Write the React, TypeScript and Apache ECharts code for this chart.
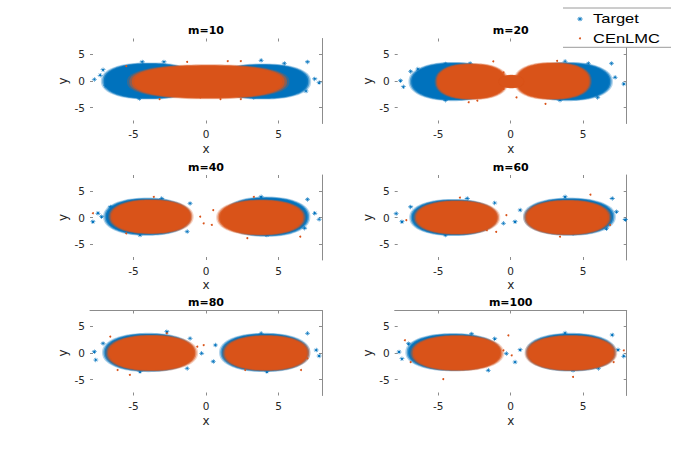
import React, { useEffect, useRef } from "react";
import * as echarts from "echarts";

// ---------- data ----------
const panelTitles = ["m=10", "m=20", "m=40", "m=60", "m=80", "m=100"];
const xTicks = [-5, 0, 5];
const yTicks = [-5, 0, 5];
const axisMin = -8;
const axisMax = 8;

// dense cloud bodies: [centre x, centre y, half-width x, half-height y, roundness]
const targetBody_m10 = [[-3.9, 0.0, 3.35, 3.5, 2.3], [3.9, -0.1, 3.35, 3.4, 2.3]];
const approxBody_m10 = [[0.15, -0.15, 5.6, 3.3, 2.4]];
const targetBody_m20 = [[-3.95, -0.1, 3.1, 3.7, 2.2], [3.95, -0.1, 3.1, 3.7, 2.2]];
const approxBody_m20 = [[-2.7, -0.1, 2.55, 3.5, 2.3], [2.9, 0.0, 2.7, 3.6, 2.3], [0.05, -0.1, 0.9, 1.3, 2.0]];
const targetBody_m40 = [[-4.05, 0.15, 3.05, 3.6, 2.2], [4.15, 0.15, 3.05, 3.8, 2.2]];
const approxBody_m40 = [[-3.8, 0.15, 2.95, 3.35, 2.2], [3.8, 0.0, 3.1, 3.45, 2.2]];
const targetBody_m60 = [[-3.95, 0.0, 3.05, 3.5, 2.2], [4.05, 0.15, 3.2, 3.6, 2.2]];
const approxBody_m60 = [[-3.72, 0.0, 3.0, 3.3, 2.2], [3.92, 0.0, 3.05, 3.4, 2.2]];
const targetBody_m80 = [[-3.97, 0.1, 3.2, 3.7, 2.2], [4.05, 0.1, 3.15, 3.7, 2.2]];
const approxBody_m80 = [[-3.75, 0.0, 3.2, 3.5, 2.2], [4.15, 0.0, 3.05, 3.45, 2.2]];
const targetBody_m100 = [[-3.97, 0.15, 3.3, 3.6, 2.2], [4.15, 0.15, 3.15, 3.65, 2.2]];
const approxBody_m100 = [[-3.7, 0.0, 3.25, 3.45, 2.2], [4.15, 0.0, 3.2, 3.45, 2.2]];

// sparse points outside the dense bodies: [x, y]
const targetPts_m10 = [[-7.7, 0.3], [-7.3, 1.1], [-7.1, 2.1], [-4.4, 3.6], [-2.9, 3.6], [3.8, 3.9], [5.4, 3.3], [7.0, 3.6], [7.5, 0.4], [7.8, -0.3], [6.9, -1.9], [-4.6, -3.3], [3.3, -3.1], [5.2, -2.5], [-6.9, -0.9]];
const approxPts_m10 = [[-1.3, 3.6], [1.5, 3.75], [2.4, 3.75], [1.0, -3.4], [2.4, -3.4], [-3.2, -3.4], [-0.4, -3.1], [-5.5, 2.8]];
const targetPts_m20 = [[-7.6, 0.06], [-7.4, -1.1], [-6.9, 1.8], [-6.4, 2.25], [-4.5, 3.2], [-2.8, 3.3], [-4.5, -3.6], [3.75, 3.7], [5.35, 3.3], [6.95, 3.3], [7.2, 0.7], [7.8, -0.56], [6.0, -3.1], [3.4, -3.6]];
const approxPts_m20 = [[-1.2, 3.7], [-0.5, 1.6], [-0.5, -1.5], [0.4, -3.1], [2.4, -4.3], [-2.3, -3.7], [3.2, 3.8], [-2.9, -4.0]];
const targetPts_m40 = [[-7.8, -0.8], [-7.45, 0.8], [-7.2, 0.15], [-6.6, 2.0], [-3.05, 3.6], [-4.55, -3.3], [-1.3, -2.65], [-1.1, 2.65], [3.8, 3.9], [7.0, 3.4], [7.5, 0.8], [7.8, -0.35], [6.8, -2.0], [4.2, -3.3]];
const approxPts_m40 = [[-7.8, 0.8], [-3.6, 3.9], [-0.4, 0.15], [-0.16, -1.1], [0.5, 1.4], [0.4, -1.4], [6.5, -3.6], [2.85, -3.9], [3.3, 3.9], [-5.5, -3.0]];
const targetPts_m60 = [[-7.9, 0.75], [-7.5, -0.8], [-6.9, 2.0], [-3.0, 3.6], [-4.5, -3.3], [-1.1, 2.75], [-0.5, -1.1], [0.3, -0.8], [0.65, 1.4], [3.75, 3.9], [7.0, 3.6], [7.3, 1.1], [7.9, -0.4], [6.6, -2.1], [4.3, -3.0]];
const approxPts_m60 = [[-7.2, -0.5], [-3.5, 3.75], [-1.0, -2.7], [-0.3, 0.44], [5.5, 4.3], [6.2, -0.2], [6.85, -1.4], [3.4, -3.6], [-1.65, -2.4]];
const targetPts_m80 = [[-7.7, 0.25], [-7.6, -1.3], [-7.1, 1.8], [-2.7, 4.0], [-1.1, 2.75], [-1.3, -2.9], [-4.55, -3.5], [-0.3, -0.06], [0.65, 1.5], [0.5, -1.6], [3.8, 3.7], [7.0, 3.7], [7.6, 0.56], [7.8, -0.56], [4.2, -3.5]];
const approxPts_m80 = [[-6.6, 3.1], [-6.1, -3.2], [-5.25, -4.1], [-0.6, 1.2], [-0.16, 1.5], [-2.7, 3.7], [7.0, -1.0], [6.55, -3.2], [2.7, -3.2]];
const targetPts_m100 = [[-7.7, 0.2], [-7.5, -1.1], [-7.05, 1.75], [-2.7, 3.6], [-1.1, 2.7], [-1.55, -3.25], [-0.3, -0.1], [0.3, -1.7], [0.65, 0.6], [3.75, 3.75], [7.0, 3.4], [7.4, 0.6], [7.8, -0.6], [6.05, -2.9], [4.3, -3.25]];
const approxPts_m100 = [[-7.3, 2.4], [-6.9, -1.7], [-4.65, -4.9], [-0.16, 3.3], [-0.5, 0.5], [0.07, -0.44], [7.8, 0.5], [7.1, -1.7], [4.3, -4.5]];

const legendNames = ["Target", "CEnLMC"];

// ---------- styling / layout ----------
const BLUE = "#0072BD";
const ORANGE = "#D95319";
const AXIS_GRAY = "#8c8c8c";
const TEXT = "#262626";
const colLeft = [90, 394.7];
const rowTop = [38.5, 175, 310.5];
const gridW = 232;
const gridH = 85;

const STAR =
  "path://M-0.45,-4h0.9v8h-0.9z M-4,-0.45h8v0.9h-8z M-2.9,-2.3L-2.3,-2.9L2.9,2.3L2.3,2.9z M2.3,-2.9L2.9,-2.3L-2.3,2.9L-2.9,2.3z";

const TARGET_LAYERS = [[1.0, 0.3], [0.97, 0.55], [0.94, 0.85], [0.91, 1]];
const APPROX_LAYERS = [[1.0, 0.25], [0.97, 0.5], [0.94, 0.8], [0.91, 1]];

function blobRenderer(color: string, layers: number[][]) {
  return (_params: any, api: any) => {
    const c = api.coord([api.value(0), api.value(1)]);
    const s = api.size([api.value(2), api.value(3)]);
    const p = api.value(4);
    const children = layers.map(([k, op]) => {
      const pts: number[][] = [];
      const n = 120;
      for (let j = 0; j < n; j++) {
        const t = (j / n) * Math.PI * 2;
        const ct = Math.cos(t);
        const st = Math.sin(t);
        pts.push([
          c[0] + s[0] * k * Math.sign(ct) * Math.pow(Math.abs(ct), 2 / p),
          c[1] - s[1] * k * Math.sign(st) * Math.pow(Math.abs(st), 2 / p),
        ]);
      }
      return { type: "polygon", shape: { points: pts }, style: { fill: color, opacity: op }, silent: true };
    });
    return { type: "group", children };
  };
}

export default function App() {
  const ref = useRef<HTMLDivElement>(null);

  useEffect(() => {
    document.body.style.margin = "0";
    if (!ref.current) return;
    const chart = echarts.init(ref.current, undefined, { renderer: "svg" });

    const panels = [
      { title: panelTitles[0], tb: targetBody_m10, ab: approxBody_m10, tp: targetPts_m10, ap: approxPts_m10 },
      { title: panelTitles[1], tb: targetBody_m20, ab: approxBody_m20, tp: targetPts_m20, ap: approxPts_m20 },
      { title: panelTitles[2], tb: targetBody_m40, ab: approxBody_m40, tp: targetPts_m40, ap: approxPts_m40 },
      { title: panelTitles[3], tb: targetBody_m60, ab: approxBody_m60, tp: targetPts_m60, ap: approxPts_m60 },
      { title: panelTitles[4], tb: targetBody_m80, ab: approxBody_m80, tp: targetPts_m80, ap: approxPts_m80 },
      { title: panelTitles[5], tb: targetBody_m100, ab: approxBody_m100, tp: targetPts_m100, ap: approxPts_m100 },
    ];

    const grids: any[] = [];
    const xAxes: any[] = [];
    const yAxes: any[] = [];
    const series: any[] = [];
    const graphics: any[] = [];

    const tickStyle = (vals: number[]) => ({
      show: true,
      inside: true,
      length: 3,
      customValues: vals,
      lineStyle: { color: AXIS_GRAY, width: 1 },
    });

    panels.forEach((pn, i) => {
      const row = Math.floor(i / 2);
      const col = i % 2;
      const left = colLeft[col];
      const top = rowTop[row];
      grids.push({ left, top, width: gridW, height: gridH, containLabel: false, outerBoundsMode: "none" });

      xAxes.push({
        type: "value", gridIndex: i, min: axisMin, max: axisMax, position: "bottom",
        axisLine: { show: false, onZero: false },
        splitLine: { show: false },
        axisTick: tickStyle(xTicks),
        axisLabel: { customValues: xTicks, margin: 5, fontSize: 10.5, fontFamily: "DejaVu Sans", color: TEXT },
        name: "x", nameLocation: "middle", nameGap: 19,
        nameTextStyle: { fontSize: 12, fontFamily: "DejaVu Sans", color: TEXT },
      });
      xAxes.push({
        type: "value", gridIndex: i, min: axisMin, max: axisMax, position: "top",
        axisLine: { show: row === 2, onZero: false, lineStyle: { color: AXIS_GRAY, width: 1 } },
        splitLine: { show: false },
        axisTick: tickStyle(xTicks),
        axisLabel: { show: false },
      });
      yAxes.push({
        type: "value", gridIndex: i, min: axisMin, max: axisMax, position: "left",
        axisLine: { show: false, onZero: false },
        splitLine: { show: false },
        axisTick: tickStyle(yTicks),
        axisLabel: { customValues: yTicks, margin: 5, fontSize: 10.5, fontFamily: "DejaVu Sans", color: TEXT },
        name: "y", nameLocation: "middle", nameGap: 21,
        nameTextStyle: { fontSize: 12, fontFamily: "DejaVu Sans", color: TEXT },
      });
      yAxes.push({
        type: "value", gridIndex: i, min: axisMin, max: axisMax, position: "right",
        axisLine: { show: true, onZero: false, lineStyle: { color: AXIS_GRAY, width: 1 } },
        splitLine: { show: false },
        axisTick: tickStyle(yTicks),
        axisLabel: { show: false },
      });

      const xi = 2 * i;
      const yi = 2 * i;
      series.push({
        type: "custom", name: legendNames[0], xAxisIndex: xi, yAxisIndex: yi, clip: true,
        renderItem: blobRenderer(BLUE, TARGET_LAYERS),
        data: pn.tb, silent: true, z: 1,
      });
      series.push({
        type: "scatter", name: legendNames[0], xAxisIndex: xi, yAxisIndex: yi, clip: true,
        symbol: STAR, symbolSize: [5, 4.5], itemStyle: { color: BLUE, opacity: 1 },
        data: pn.tp, silent: true, z: 2,
      });
      series.push({
        type: "custom", name: legendNames[1], xAxisIndex: xi, yAxisIndex: yi, clip: true,
        renderItem: blobRenderer(ORANGE, APPROX_LAYERS),
        data: pn.ab, silent: true, z: 3,
      });
      series.push({
        type: "scatter", name: legendNames[1], xAxisIndex: xi, yAxisIndex: yi, clip: true,
        symbol: "circle", symbolSize: 2, itemStyle: { color: ORANGE, opacity: 1 },
        data: pn.ap, silent: true, z: 4,
      });

      graphics.push({
        type: "text", x: left + gridW / 2, y: top - 8, z: 50,
        style: {
          text: pn.title, font: 'bold 11px "DejaVu Sans"', fill: "#000",
          textAlign: "center", textVerticalAlign: "middle", align: "center", verticalAlign: "middle",
        },
      });
    });

    // legend box (top right)
    graphics.push({ type: "rect", z: 100, shape: { x: 563, y: 8, width: 108, height: 39.3 }, style: { fill: "#fff" } });
    graphics.push({ type: "line", z: 101, shape: { x1: 563, y1: 8, x2: 671, y2: 8 }, style: { stroke: "#9a9a9a", lineWidth: 1 } });
    graphics.push({ type: "line", z: 101, shape: { x1: 563, y1: 47.3, x2: 671, y2: 47.3 }, style: { stroke: "#9a9a9a", lineWidth: 1 } });
    const starLines = [
      [-2.6, 0, 2.6, 0, 0.9],
      [0, -2.2, 0, 2.2, 0.9],
      [-1.9, -1.6, 1.9, 1.6, 0.7],
      [-1.9, 1.6, 1.9, -1.6, 0.7],
    ];
    starLines.forEach(([x1, y1, x2, y2, w]) => {
      graphics.push({
        type: "line", z: 101,
        shape: { x1: 580 + x1, y1: 19 + y1, x2: 580 + x2, y2: 19 + y2 },
        style: { stroke: BLUE, lineWidth: w },
      });
    });
    graphics.push({ type: "circle", z: 101, shape: { cx: 580, cy: 38.3, r: 1 }, style: { fill: ORANGE } });
    graphics.push({
      type: "text", z: 102, x: 593, y: 18.8, scaleX: 1.27, scaleY: 1,
      style: { text: legendNames[0], font: '13px "Liberation Sans"', fill: "#000", textAlign: "left", textVerticalAlign: "middle", align: "left", verticalAlign: "middle" },
    });
    graphics.push({
      type: "text", z: 102, x: 593, y: 38.2, scaleX: 1.27, scaleY: 1,
      style: { text: legendNames[1], font: '13px "Liberation Sans"', fill: "#000", textAlign: "left", textVerticalAlign: "middle", align: "left", verticalAlign: "middle" },
    });

    chart.setOption({
      animation: false,
      backgroundColor: "#fff",
      grid: grids,
      xAxis: xAxes,
      yAxis: yAxes,
      series,
      graphic: graphics,
    });

    return () => chart.dispose();
  }, []);

  return <div ref={ref} style={{ width: 692, height: 454 }} />;
}
